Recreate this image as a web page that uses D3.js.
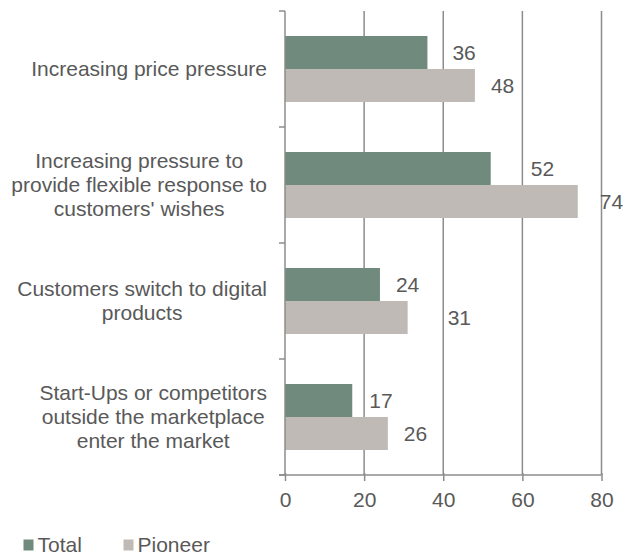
<!DOCTYPE html>
<html>
<head>
<meta charset="utf-8">
<script src="https://cdn.jsdelivr.net/npm/d3@7"></script>
<style>
  body { margin: 0; background: #fff; }
  text { font-family: "Liberation Sans", Arial, sans-serif; fill: #595959; }
</style>
</head>
<body>
<div id="chart"></div>
<script>
// Data
var categories = [
    "Increasing price pressure",
    "Increasing pressure to\nprovide flexible response to\ncustomers' wishes",
    "Customers switch to digital\nproducts",
    "Start-Ups or competitors\noutside the marketplace\nenter the market"
];
var seriesNames = ["Total", "Pioneer"];
var totalValues = [36, 52, 24, 17];
var pioneerValues = [48, 74, 31, 26];
var xTicks = [0, 20, 40, 60, 80];

// label nudges (px to the right of bar end), Excel placed these by hand
var labelShift = {
    Total: [25, 40, 16, 17],
    Pioneer: [16, 22, 40, 16]
};

var colors = { Total: "#708b7d", Pioneer: "#bfbab6" };

var width = 623, height = 555;
var plot = { left: 285, right: 601.5, top: 11, bottom: 475 };
var fontSize = "21px";

var svg = d3.select("#chart")
    .append("svg")
        .attr("width", width)
        .attr("height", height);

var x = d3.scaleLinear().domain([0, 80]).range([plot.left, plot.right]);
var y0 = d3.scaleBand().domain(d3.range(categories.length))
    .range([plot.top, plot.bottom]).padding(0);
var y1 = d3.scaleBand().domain(seriesNames)
    .range([0, y0.bandwidth()]).paddingInner(0).paddingOuter(0.758);

var rows = categories.map(function(c, i) {
    return { idx: i, name: c, Total: totalValues[i], Pioneer: pioneerValues[i] };
});

// Gridlines
svg.append("g")
    .selectAll("line")
    .data(xTicks.slice(1))
    .enter().append("line")
    .attr("x1", function(d) { return x(d); })
    .attr("x2", function(d) { return x(d); })
    .attr("y1", plot.top)
    .attr("y2", plot.bottom)
    .style("stroke", "#8c8c8c")
    .style("stroke-width", 1.5);

// Bars
var groups = svg.selectAll(".grp")
    .data(rows)
    .enter().append("g")
    .attr("class", "grp")
    .attr("transform", function(d) { return "translate(0," + y0(d.idx) + ")"; });

seriesNames.forEach(function(s) {
    groups.append("rect")
        .attr("x", x(0))
        .attr("y", y1(s))
        .attr("width", function(d) { return x(d[s]) - x(0); })
        .attr("height", y1.bandwidth())
        .style("fill", colors[s]);

    groups.append("text")
        .attr("x", function(d) { return x(d[s]) + labelShift[s][d.idx]; })
        .attr("y", y1(s) + y1.bandwidth() / 2)
        .attr("dy", ".35em")
        .style("font-size", fontSize)
        .text(function(d) { return d[s]; });
});

// Left axis (category axis) with boundary ticks
svg.append("line")
    .attr("x1", plot.left).attr("x2", plot.left)
    .attr("y1", plot.top).attr("y2", plot.bottom)
    .style("stroke", "#8c8c8c").style("stroke-width", 1.5);
svg.append("g")
    .selectAll("line")
    .data(d3.range(categories.length + 1))
    .enter().append("line")
    .attr("x1", plot.left - 6).attr("x2", plot.left)
    .attr("y1", function(i) { return plot.top + i * y0.step(); })
    .attr("y2", function(i) { return plot.top + i * y0.step(); })
    .style("stroke", "#8c8c8c").style("stroke-width", 1.5);

// Category labels: centred lines, block right-aligned
var lineH = 24;
rows.forEach(function(d) {
    var lines = d.name.split("\n");
    var cy = y0(d.idx) + y0.bandwidth() / 2;
    var t = svg.append("text")
        .style("font-size", fontSize)
        .attr("text-anchor", "middle");
    lines.forEach(function(l, j) {
        t.append("tspan")
            .attr("y", cy + (j - (lines.length - 1) / 2) * lineH)
            .attr("dy", ".35em")
            .text(l);
    });
    var maxW = d3.max(t.selectAll("tspan").nodes(), function(n) { return n.getComputedTextLength(); });
    t.selectAll("tspan").attr("x", 267 - maxW / 2);
});

// X axis
var xAxis = d3.axisBottom(x).tickValues(xTicks).tickSize(6).tickPadding(11);
var gx = svg.append("g")
    .attr("transform", "translate(0," + plot.bottom + ")")
    .call(xAxis);
gx.select(".domain").remove();
gx.selectAll(".tick line").style("stroke", "#8c8c8c").style("stroke-width", 1.5)
    .attr("y1", -2);
gx.selectAll(".tick text")
    .style("font-family", "Liberation Sans, Arial, sans-serif")
    .style("font-size", fontSize)
    .style("fill", "#595959");
svg.append("line")
    .attr("x1", plot.left - 6).attr("x2", plot.right)
    .attr("y1", plot.bottom).attr("y2", plot.bottom)
    .style("stroke", "#8c8c8c").style("stroke-width", 1.5);

// Legend
var legendX = [23.5, 123.5];
seriesNames.forEach(function(s, i) {
    svg.append("rect")
        .attr("x", legendX[i]).attr("y", 539.5)
        .attr("width", 10).attr("height", 11)
        .style("fill", colors[s]);
    svg.append("text")
        .attr("x", legendX[i] + 14)
        .attr("y", 552)
        .style("font-size", fontSize)
        .text(s);
});
</script>
</body>
</html>
